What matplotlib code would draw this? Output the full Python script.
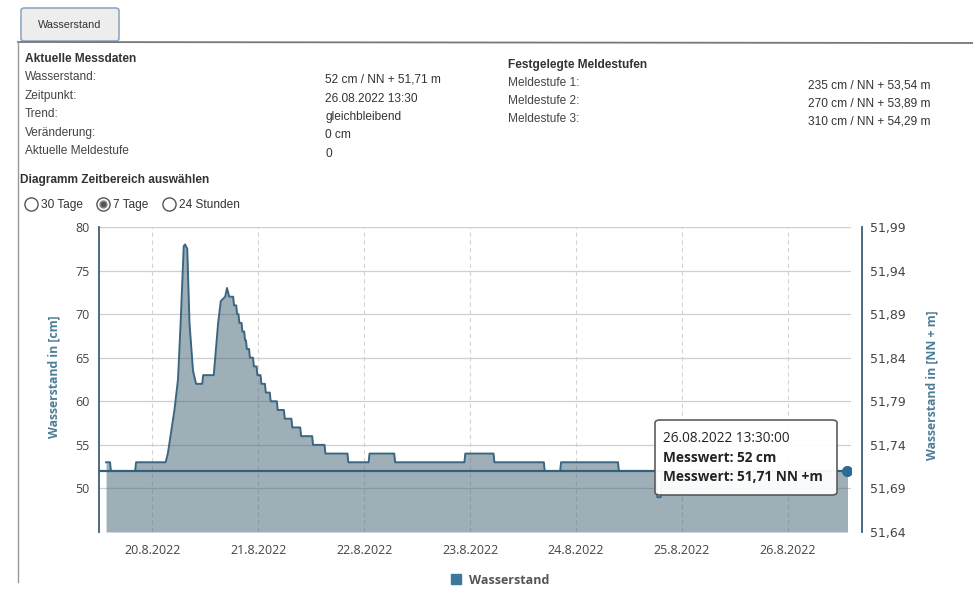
import matplotlib
matplotlib.use("Agg")
import matplotlib.pyplot as plt
from matplotlib.patches import FancyBboxPatch, Patch
from matplotlib.lines import Line2D

W, H = 973, 589

# Pegel-Daten: Stunden seit 19.08.2022 00:00, Wasserstand in cm
hours = [13.5, 14.4, 14.6, 20.1, 20.3, 27.0, 27.5, 28.1, 29.0, 29.8, 30.4, 31.1, 31.4,
         31.9, 32.4, 33.2, 33.9, 35.3, 35.5, 37.9, 38.4, 38.9, 39.5, 40.5, 40.9, 41.4, 42.3,
         42.5, 43.0, 43.2, 43.5, 43.7, 44.2, 44.4, 44.8, 45.0, 45.2, 45.4, 45.9, 46.1, 46.8,
         47.0, 47.6, 47.8, 48.5, 48.7, 49.5, 49.7, 50.6, 50.8, 52.2, 52.4, 53.8, 54.0, 55.5,
         55.7, 57.5, 57.7, 60.2, 60.4, 63.0, 63.2, 68.2, 68.4, 73.0, 73.2, 78.8, 79.0, 94.7,
         94.9, 101.3, 101.5, 112.7, 112.9, 116.4, 116.6, 129.5, 129.7, 138.2, 138.4, 139.2,
         139.4, 181.5]
level = [53, 53, 52, 52, 53, 53, 54, 56, 59, 62.5, 69, 77.8, 78,
         77.5, 69, 63.5, 62, 62, 63, 63, 66, 69, 71.5, 72, 73, 72, 72,
         71, 71, 70, 70, 69, 69, 68, 68, 67, 67, 66, 66, 65, 65,
         64, 64, 63, 63, 62, 62, 61, 61, 60, 60, 59, 59, 58, 58,
         57, 57, 56, 56, 55, 55, 54, 54, 53, 53, 54, 54, 53, 53,
         54, 54, 53, 53, 52, 52, 53, 53, 52, 52, 49, 49,
         52, 52]

current_level = 52
NN_OFFSET = 51.19  # NN + m = cm / 100 + offset

day_numbers = [20, 21, 22, 23, 24, 25, 26]
day_labels = ["20.8.2022", "21.8.2022", "22.8.2022", "23.8.2022", "24.8.2022", "25.8.2022", "26.8.2022"]
left_ticks = [50, 55, 60, 65, 70, 75, 80]
right_ticks = [51.64, 51.69, 51.74, 51.79, 51.84, 51.89, 51.94, 51.99]

messdaten_labels = ["Wasserstand:", "Zeitpunkt:", "Trend:", "Veränderung:", "Aktuelle Meldestufe"]
messdaten_values = ["52 cm / NN + 51,71 m", "26.08.2022 13:30", "gleichbleibend", "0 cm", "0"]
meldestufen_labels = ["Meldestufe 1:", "Meldestufe 2:", "Meldestufe 3:"]
meldestufen_values = ["235 cm / NN + 53,54 m", "270 cm / NN + 53,89 m", "310 cm / NN + 54,29 m"]
zeitbereich = ["30 Tage", "7 Tage", "24 Stunden"]
tooltip_lines = ["26.08.2022 13:30:00", "Messwert: 52 cm", "Messwert: 51,71 NN +m"]

PAGE_FONT = "Liberation Sans"
CHART_FONT = "Open Sans"


def fx(x):
    return x / W


def fy(y):
    return 1 - y / H


fig = plt.figure(figsize=(W / 100, H / 100), dpi=100)

# --- Seitenrahmen und Reiter ---
tab = FancyBboxPatch((fx(21), fy(41)), fx(119) - fx(21), fy(8) - fy(41),
                     boxstyle="round,pad=0,rounding_size=0.004",
                     transform=fig.transFigure, facecolor="#ededed", edgecolor="#8fa9c4", lw=1.2)
fig.add_artist(tab)
fig.text(fx(70), fy(25), "Wasserstand", fontsize=7.8, family=PAGE_FONT, color="#333",
         ha="center", va="center")
fig.add_artist(Line2D([fx(18), 1], [fy(42), fy(43)], color="#777", lw=1.3))
fig.add_artist(Line2D([fx(18), fx(18)], [fy(42), fy(582)], color="#999", lw=1.0))

# --- Aktuelle Messdaten ---
fig.text(fx(25), fy(59), "Aktuelle Messdaten", fontsize=8.6, family=PAGE_FONT,
         fontweight="bold", color="#333", va="center")
for i, (lab, val) in enumerate(zip(messdaten_labels, messdaten_values)):
    fig.text(fx(25), fy(77 + i * 18.5), lab, fontsize=8.6, family=PAGE_FONT, color="#444", va="center")
    fig.text(fx(325), fy(80 + i * 18.5), val, fontsize=8.6, family=PAGE_FONT, color="#333", va="center")

# --- Festgelegte Meldestufen ---
fig.text(fx(508), fy(65), "Festgelegte Meldestufen", fontsize=8.6, family=PAGE_FONT,
         fontweight="bold", color="#333", va="center")
for i, (lab, val) in enumerate(zip(meldestufen_labels, meldestufen_values)):
    fig.text(fx(508), fy(83 + i * 18), lab, fontsize=8.6, family=PAGE_FONT, color="#444", va="center")
    fig.text(fx(808), fy(86 + i * 18), val, fontsize=8.6, family=PAGE_FONT, color="#333", va="center")

# --- Zeitbereich Auswahl ---
fig.text(fx(20), fy(180), "Diagramm Zeitbereich auswählen", fontsize=8.6, family=PAGE_FONT,
         fontweight="bold", color="#333", va="center")
radio_x = [31, 103, 169]
for i, (rx, lab) in enumerate(zip(radio_x, zeitbereich)):
    fig.add_artist(Line2D([fx(rx)], [fy(204)], marker="o", ms=9.5, mfc="white", mec="#555", mew=1.0))
    if lab == "7 Tage":
        fig.add_artist(Line2D([fx(rx)], [fy(204)], marker="o", ms=5, mfc="#555", mec="#888", mew=1.0))
    fig.text(fx(rx + 10), fy(205), lab, fontsize=8.6, family=PAGE_FONT, color="#333", va="center")

# --- Diagramm ---
ax = fig.add_axes([fx(99), fy(532), fx(851) - fx(99), fy(227) - fy(532)])
ax.set_xlim(11.9, 182.3)
ax.set_ylim(45, 80)

ax.fill_between(hours, level, 45, color="#4f6d7e", alpha=0.55, lw=0, zorder=2)
ax.plot(hours, level, color="#3b6680", lw=1.4, zorder=3)
ax.plot([11.9, hours[-1]], [current_level, current_level], color="#33607c", lw=1.6, zorder=4)
ax.plot(hours[-1], current_level, "o", ms=7, color="#2d6a95", zorder=5)

ax.set_xticks([(d - 19) * 24 for d in day_numbers])
ax.set_xticklabels(day_labels)
ax.set_yticks(left_ticks)
ax.grid(axis="y", color="#cfcfcf", lw=0.9, zorder=1)
ax.grid(axis="x", color="#d4d4d4", lw=0.8, ls=(0, (4, 3)), zorder=1)
ax.set_axisbelow(True)
ax.tick_params(axis="x", length=0, pad=9, labelsize=9, labelcolor="#444")
ax.tick_params(axis="y", length=0, pad=7, labelsize=9, labelcolor="#444")
for lab in ax.get_xticklabels() + ax.get_yticklabels():
    lab.set_family(CHART_FONT)
for side in ["top", "bottom", "right"]:
    ax.spines[side].set_visible(False)
ax.spines["left"].set_color("#3d5f78")
ax.spines["left"].set_linewidth(1.3)

ax.set_ylabel("Wasserstand in [cm]", fontsize=8.8, family=CHART_FONT, fontweight="bold", color="#4d7d96")
ax.yaxis.set_label_coords((60 - 99) / 752, 0.51)

ax2 = ax.twinx()
ax2.set_ylim(45 / 100 + NN_OFFSET, 80 / 100 + NN_OFFSET)
ax2.set_yticks(right_ticks)
ax2.set_yticklabels([f"{v:.2f}".replace(".", ",") for v in right_ticks])
ax2.tick_params(axis="y", length=0, pad=6, labelsize=9, labelcolor="#444")
for lab in ax2.get_yticklabels():
    lab.set_family(CHART_FONT)
for side in ["top", "bottom", "left"]:
    ax2.spines[side].set_visible(False)
ax2.spines["right"].set_position(("outward", 8))
ax2.spines["right"].set_color("#3d5f78")
ax2.spines["right"].set_linewidth(1.3)
ax2.set_ylabel("Wasserstand in [NN + m]", fontsize=8.8, family=CHART_FONT, fontweight="bold",
               color="#4d7d96", rotation=90)
ax2.yaxis.set_label_coords((925 - 99) / 752, 0.48)

# --- Tooltip ---
tip = FancyBboxPatch((fx(655), fy(495)), fx(837) - fx(655), fy(420) - fy(495),
                     boxstyle="round,pad=0,rounding_size=0.005", transform=fig.transFigure,
                     facecolor="white", edgecolor="#555", lw=1.2, alpha=0.95, zorder=10)
fig.add_artist(tip)
for i, line in enumerate(tooltip_lines):
    fig.text(fx(663), fy(438 + i * 19.5), line, fontsize=9.8, family=CHART_FONT,
             fontweight="normal" if i == 0 else "bold", color="#222", va="center", zorder=11)

# --- Legende ---
fig.legend(handles=[Patch(facecolor="#3c789c", edgecolor="#3c789c", label="Wasserstand")],
           loc="center", bbox_to_anchor=(fx(500), fy(580)), frameon=False,
           handlelength=0.8, handleheight=0.8, handletextpad=0.6,
           prop={"family": CHART_FONT, "size": 9, "weight": "bold"}, labelcolor="#555")

fig.savefig("out.png", dpi=100)
